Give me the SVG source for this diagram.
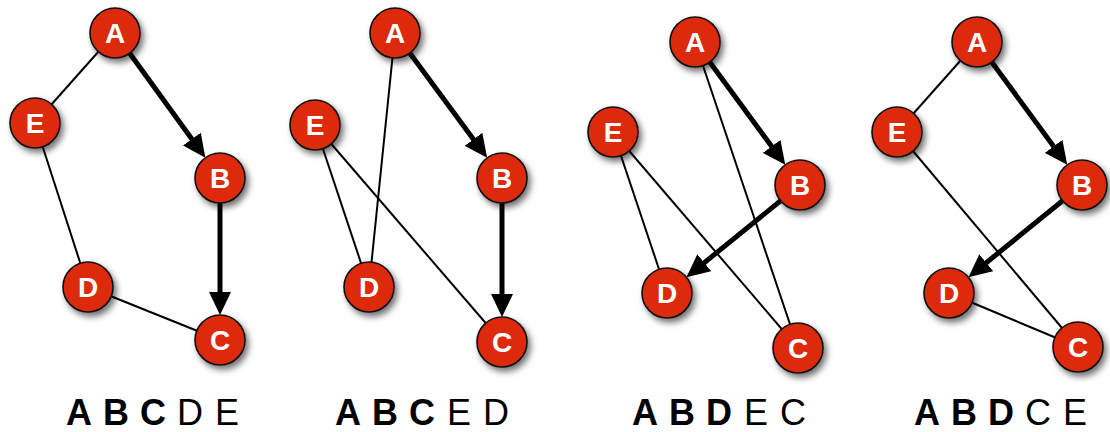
<svg xmlns="http://www.w3.org/2000/svg" width="1110" height="432" viewBox="0 0 1110 432">
  <style>
    .edge { stroke: #000; stroke-width: 2; fill: none; }
    .arc { stroke: #000; stroke-width: 5; fill: none; marker-end: url(#head); }
    .node circle { fill: #dd2a0e; stroke: #111; stroke-width: 1.6; filter: url(#shade); }
    .node text { font-family: "Liberation Sans", Arial, sans-serif; font-weight: bold; font-size: 28px; fill: #fff; text-anchor: middle; }
    .order { font-family: "Liberation Sans", Arial, sans-serif; font-size: 36px; fill: #000; text-anchor: middle; }
    .order .b { font-weight: bold; }
  </style>
  <defs>
    <filter id="shade" x="-40%" y="-40%" width="190%" height="190%">
      <feDropShadow dx="3" dy="4" stdDeviation="3" flood-color="#000" flood-opacity="0.55"/>
    </filter>
    <marker id="head" viewBox="0 -11 23 22" refX="12" refY="0" markerWidth="23" markerHeight="22" markerUnits="userSpaceOnUse" orient="auto">
      <path d="M0,-11 L23,0 L0,11 z" fill="#000"/>
    </marker>
  </defs>

  <rect width="1110" height="432" fill="#fff"/>

  <!-- connectors -->
  <g id="connectors">
    <!-- graph 1 -->
    <line class="edge" x1="115" y1="33" x2="35" y2="123"/>
    <line class="edge" x1="35" y1="123" x2="88" y2="287"/>
    <line class="edge" x1="88" y1="287" x2="220" y2="340"/>
    <line class="arc" x1="115" y1="33" x2="198.9" y2="148.8"/>
    <line class="arc" x1="220" y1="178" x2="220" y2="304"/>
    <!-- graph 2 -->
    <line class="edge" x1="395" y1="33" x2="369" y2="287"/>
    <line class="edge" x1="315" y1="125" x2="369" y2="287"/>
    <line class="edge" x1="315" y1="125" x2="502" y2="342"/>
    <line class="arc" x1="395" y1="33" x2="480.6" y2="149.0"/>
    <line class="arc" x1="502" y1="178" x2="502" y2="306"/>
    <!-- graph 3 -->
    <line class="edge" x1="695" y1="42" x2="798" y2="348"/>
    <line class="edge" x1="613" y1="132" x2="667" y2="293"/>
    <line class="edge" x1="613" y1="132" x2="798" y2="348"/>
    <line class="arc" x1="695" y1="42" x2="778.7" y2="156.0"/>
    <line class="arc" x1="800" y1="185" x2="694.95" y2="270.3"/>
    <!-- graph 4 -->
    <line class="edge" x1="977" y1="42" x2="897" y2="132"/>
    <line class="edge" x1="897" y1="132" x2="1078" y2="347"/>
    <line class="edge" x1="949" y1="293" x2="1078" y2="347"/>
    <line class="arc" x1="977" y1="42" x2="1060.7" y2="156.0"/>
    <line class="arc" x1="1082" y1="185" x2="976.95" y2="270.3"/>
  </g>

  <!-- graph 1 nodes -->
  <g id="g1-A" class="node"><circle cx="115" cy="33" r="25"/><text x="115" y="43">A</text></g>
  <g id="g1-B" class="node"><circle cx="220" cy="178" r="25"/><text x="220" y="188">B</text></g>
  <g id="g1-C" class="node"><circle cx="220" cy="340" r="25"/><text x="220" y="350">C</text></g>
  <g id="g1-D" class="node"><circle cx="88" cy="287" r="25"/><text x="88" y="297">D</text></g>
  <g id="g1-E" class="node"><circle cx="35" cy="123" r="25"/><text x="35" y="133">E</text></g>

  <!-- graph 2 nodes -->
  <g id="g2-A" class="node"><circle cx="395" cy="33" r="25"/><text x="395" y="43">A</text></g>
  <g id="g2-B" class="node"><circle cx="502" cy="178" r="25"/><text x="502" y="188">B</text></g>
  <g id="g2-C" class="node"><circle cx="502" cy="342" r="25"/><text x="502" y="352">C</text></g>
  <g id="g2-D" class="node"><circle cx="369" cy="287" r="25"/><text x="369" y="297">D</text></g>
  <g id="g2-E" class="node"><circle cx="315" cy="125" r="25"/><text x="315" y="135">E</text></g>

  <!-- graph 3 nodes -->
  <g id="g3-A" class="node"><circle cx="695" cy="42" r="25"/><text x="695" y="52">A</text></g>
  <g id="g3-B" class="node"><circle cx="800" cy="185" r="25"/><text x="800" y="195">B</text></g>
  <g id="g3-C" class="node"><circle cx="798" cy="348" r="25"/><text x="798" y="358">C</text></g>
  <g id="g3-D" class="node"><circle cx="667" cy="293" r="25"/><text x="667" y="303">D</text></g>
  <g id="g3-E" class="node"><circle cx="613" cy="132" r="25"/><text x="613" y="142">E</text></g>

  <!-- graph 4 nodes -->
  <g id="g4-A" class="node"><circle cx="977" cy="42" r="25"/><text x="977" y="52">A</text></g>
  <g id="g4-B" class="node"><circle cx="1082" cy="185" r="25"/><text x="1082" y="195">B</text></g>
  <g id="g4-C" class="node"><circle cx="1078" cy="347" r="25"/><text x="1078" y="357">C</text></g>
  <g id="g4-D" class="node"><circle cx="949" cy="293" r="25"/><text x="949" y="303">D</text></g>
  <g id="g4-E" class="node"><circle cx="897" cy="132" r="25"/><text x="897" y="142">E</text></g>

  <!-- traversal orders -->
  <g id="orders">
    <text class="order" y="425"><tspan class="b" x="79">A</tspan><tspan class="b" x="116">B</tspan><tspan class="b" x="153">C</tspan><tspan x="190">D</tspan><tspan x="227">E</tspan></text>
    <text class="order" y="425"><tspan class="b" x="348">A</tspan><tspan class="b" x="385">B</tspan><tspan class="b" x="422">C</tspan><tspan x="459">E</tspan><tspan x="496">D</tspan></text>
    <text class="order" y="425"><tspan class="b" x="645">A</tspan><tspan class="b" x="682">B</tspan><tspan class="b" x="719">D</tspan><tspan x="756">E</tspan><tspan x="793">C</tspan></text>
    <text class="order" y="425"><tspan class="b" x="927">A</tspan><tspan class="b" x="964">B</tspan><tspan class="b" x="1001">D</tspan><tspan x="1038">C</tspan><tspan x="1075">E</tspan></text>
  </g>
</svg>
